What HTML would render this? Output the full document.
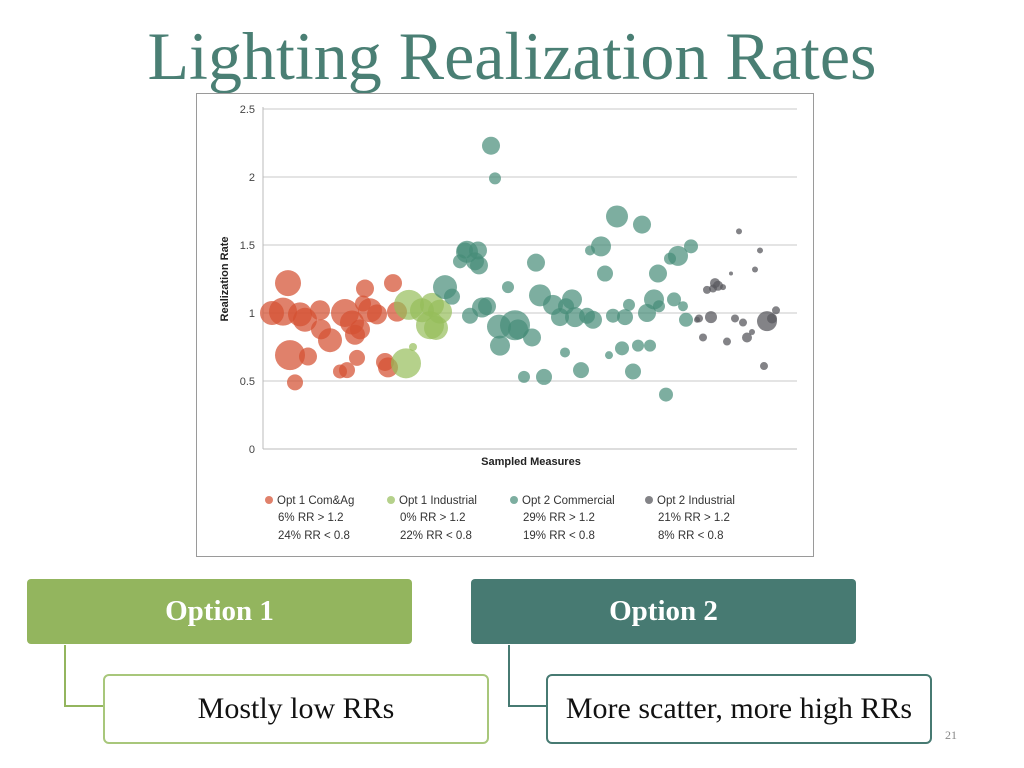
<!DOCTYPE html>
<html><head><meta charset="utf-8"><style>
body{margin:0;width:1024px;height:768px;background:#fff;position:relative;overflow:hidden;font-family:"Liberation Sans",sans-serif}
.title{position:absolute;left:0;width:1024px;top:17px;text-align:center;font-family:"Liberation Serif",serif;font-size:68px;color:#4a7f74}
.chartbox{position:absolute;left:196px;top:93px;width:616px;height:462px;border:1px solid #9a9a9a;background:#fff}
.opt{position:absolute;top:579px;height:65px;width:385px;border-radius:4px;color:#fff;font-family:"Liberation Serif",serif;font-weight:bold;font-size:29px;display:flex;align-items:center;justify-content:center}
.sub{position:absolute;top:674px;height:66px;width:382px;border:2px solid;border-radius:6px;background:#fff;font-family:"Liberation Serif",serif;font-size:30px;display:flex;align-items:center;justify-content:center;color:#111}
</style></head><body>
<div class="title">Lighting Realization Rates</div>
<div class="chartbox"></div>
<svg id="chart" width="1024" height="768" style="position:absolute;left:0;top:0"></svg>
<div class="opt" style="left:27px;background:#93b55e">Option 1</div>
<div class="opt" style="left:471px;background:#477a72">Option 2</div>
<svg width="1024" height="768" style="position:absolute;left:0;top:0;pointer-events:none">
<path d="M65 645 V706 H103" fill="none" stroke="#93b55e" stroke-width="2"/>
<path d="M509 645 V706 H547" fill="none" stroke="#477a72" stroke-width="2"/>
</svg>
<div class="sub" style="left:103px;border-color:#a8c77b">Mostly low RRs</div>
<div class="sub" style="left:546px;border-color:#477a72">More scatter, more high RRs</div>
<div style="position:absolute;left:945px;top:728px;font-family:'Liberation Serif',serif;font-size:12px;color:#888">21</div>
<script>
const yTicks=[0,0.5,1,1.5,2,2.5];
const seriesNames=["Opt 1 Com&Ag","Opt 1 Industrial","Opt 2 Commercial","Opt 2 Industrial"];
const seriesColors=["rgba(212,80,50,0.72)","rgba(150,190,90,0.7)","rgba(70,140,120,0.7)","rgba(90,90,95,0.75)"];
const legendLine2=["6% RR > 1.2","0% RR > 1.2","29% RR > 1.2","21% RR > 1.2"];
const legendLine3=["24% RR < 0.8","22% RR < 0.8","19% RR < 0.8","8% RR < 0.8"];
// [measure index, realization rate, bubble size]
const opt1Com=[[25,1.22,13],[9,1.00,12],[20,1.01,14],[37,0.99,12],[57,1.02,10],[42,0.95,12],[27,0.69,15],[45,0.68,9],[58,0.88,10],[67,0.80,12],[82,1.00,14],[89,0.93,12],[100,1.07,8],[102,1.18,9],[92,0.84,10],[84,0.58,8],[77,0.57,7],[94,0.67,8],[107,1.02,12],[114,0.99,10],[130,1.22,9],[134,1.01,10],[122,0.64,9],[125,0.60,10],[32,0.49,8],[97,0.88,10]];
const opt1Ind=[[146,1.06,15],[159,1.02,12],[169,1.06,12],[177,1.01,12],[167,0.91,14],[173,0.89,12],[143,0.63,15],[150,0.75,4]];
const opt2Com=[[228,2.23,9],[232,1.99,6],[182,1.19,12],[189,1.12,8],[204,1.45,11],[212,1.38,9],[216,1.35,9],[197,1.38,7],[202,1.46,8],[215,1.46,9],[245,1.19,6],[207,0.98,8],[219,1.04,10],[224,1.05,9],[236,0.90,12],[252,0.91,15],[255,0.88,10],[269,0.82,9],[237,0.76,10],[273,1.37,9],[261,0.53,6],[281,0.53,8],[277,1.13,11],[290,1.06,10],[303,1.05,8],[309,1.10,10],[297,0.97,9],[312,0.97,10],[330,0.95,9],[324,0.98,8],[302,0.71,5],[318,0.58,8],[346,0.69,4],[359,0.74,7],[375,0.76,6],[387,0.76,6],[338,1.49,10],[327,1.46,5],[354,1.71,11],[379,1.65,9],[342,1.29,8],[350,0.98,7],[362,0.97,8],[366,1.06,6],[384,1.00,9],[391,1.10,10],[396,1.05,6],[395,1.29,9],[411,1.10,7],[420,1.05,5],[423,0.95,7],[407,1.40,6],[415,1.42,10],[428,1.49,7],[370,0.57,8],[403,0.40,7]];
const opt2Ind=[[476,1.60,3],[497,1.46,3],[468,1.29,2],[492,1.32,3],[444,1.17,4],[450,1.18,4],[455,1.20,5],[452,1.22,5],[460,1.19,3],[436,0.96,4],[448,0.97,6],[472,0.96,4],[480,0.93,4],[504,0.94,10],[509,0.96,5],[513,1.02,4],[440,0.82,4],[464,0.79,4],[484,0.82,5],[489,0.86,3],[501,0.61,4],[434,0.95,3]];
const allSeries=[opt1Com,opt1Ind,opt2Com,opt2Ind];
const NS="http://www.w3.org/2000/svg";
const svg=document.getElementById('chart');
const X0=263,X1=797,Y0=449,Y1=109;
const xScale=v=>X0+(v/534)*(X1-X0);
const yScale=v=>Y0-(v/2.5)*(Y0-Y1);
function mk(t,a){const e=document.createElementNS(NS,t);for(const k in a)e.setAttribute(k,a[k]);svg.appendChild(e);return e;}
yTicks.forEach(t=>{
  const l=mk('line',{x1:X0,x2:X1,y1:yScale(t),y2:yScale(t),stroke:t===0?'#bbb':'#c8c8c8','stroke-width':1});
  
  
  const tx=mk('text',{x:X0-8,y:yScale(t)+4,'text-anchor':'end','font-size':11,fill:'#444'});
  tx.textContent=String(t);
  
  
});
const ax=mk('line',{x1:X0,x2:X0,y1:Y1-2,y2:Y0,stroke:'#bbb'});


const yt=mk('text',{x:228,y:279,'text-anchor':'middle','font-size':11,'font-weight':'bold',fill:'#222',transform:'rotate(-90 228 279)'});
yt.textContent='Realization Rate';


const xt=mk('text',{x:531,y:465,'text-anchor':'middle','font-size':11,'font-weight':'bold',fill:'#222'});
xt.textContent='Sampled Measures';


allSeries.forEach((s,i)=>{
  s.forEach(p=>{
    const c=mk('circle',{cx:xScale(p[0]),cy:yScale(p[1]),r:p[2],fill:seriesColors[i]});
    
    
  });
});
const lx=[265,387,510,645];
seriesNames.forEach((n,i)=>{
  const c=mk('circle',{cx:lx[i]+4,cy:500,r:4,fill:seriesColors[i]});
  
  
  [[n,504,lx[i]+12],[legendLine2[i],521,lx[i]+13],[legendLine3[i],539,lx[i]+13]].forEach(a=>{
    const t=mk('text',{x:a[2],y:a[1],'font-size':11.5,fill:'#333'});
    t.textContent=a[0];
    
    
  });
});
</script>
</body></html>
